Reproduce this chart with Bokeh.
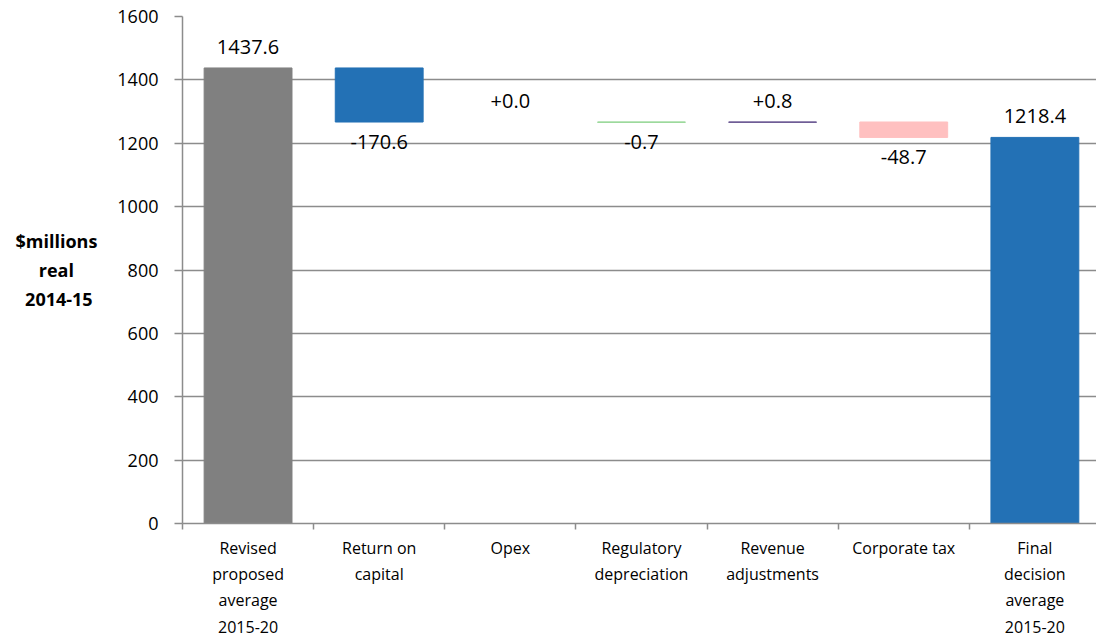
from bokeh.plotting import figure
from bokeh.models import FixedTicker, ColumnDataSource, Range1d
from bokeh.embed import file_html
from bokeh.resources import INLINE
from bokeh.core.properties import value

categories = ["Revised\nproposed\naverage\n2015-20", "Return on\ncapital", "Opex",
              "Regulatory\ndepreciation", "Revenue\nadjustments", "Corporate tax",
              "Final\ndecision\naverage\n2015-20"]
changes = [1437.6, -170.6, 0.0, -0.7, 0.8, -48.7, 1218.4]
value_labels = ["1437.6", "-170.6", "+0.0", "-0.7", "+0.8", "-48.7", "1218.4"]
is_total = [True, False, False, False, False, False, True]
colors = ["#808080", "#2371B5", "#2371B5", "#92D592", "#5F4B8B", "#FFC0C0", "#2371B5"]
y_ticks = [0, 200, 400, 600, 800, 1000, 1200, 1400, 1600]
y_title_lines = ["$millions", "real", "2014-15"]

FONT = "Open Sans"
NB = "\u00a0"
# right-aligned axis label: pad shorter lines with no-break spaces so they look centred
y_title = "\n".join([y_title_lines[0], y_title_lines[1] + NB * 5, y_title_lines[2] + NB * 1])

xs = list(range(len(categories)))
bottoms, tops, alphas = [], [], []
running = 0.0
for c, t in zip(changes, is_total):
    if t:
        bottoms.append(0.0)
        tops.append(c)
        running = c
    else:
        bottoms.append(running)
        running = running + c
        tops.append(running)
    alphas.append(0.0 if (c == 0 and not t) else 1.0)

bar_src = ColumnDataSource(dict(x=xs, bottom=bottoms, top=tops, color=colors, alpha=alphas))

up_x, up_y, up_t, dn_x, dn_y, dn_t = [], [], [], [], [], []
for x, c, t, b, tp, lab in zip(xs, changes, is_total, bottoms, tops, value_labels):
    if t or c >= 0:
        up_x.append(x); up_y.append(max(b, tp)); up_t.append(lab)
    else:
        dn_x.append(x); dn_y.append(min(b, tp)); dn_t.append(lab)

p = figure(width=1096, height=641, output_backend="svg", toolbar_location=None,
           x_range=Range1d(-0.5, 6.47), y_range=Range1d(0, 1600),
           min_border_left=182, min_border_right=0, min_border_top=16, min_border_bottom=118)
p.outline_line_color = None
p.background_fill_color = "white"

p.vbar(x="x", bottom="bottom", top="top", width=0.67, fill_color="color",
       line_color="color", fill_alpha="alpha", line_alpha="alpha", line_width=1,
       source=bar_src)

p.text(x=up_x, y=up_y, text=up_t, text_align="center", text_baseline="bottom",
       y_offset=-14, text_font=value(FONT), text_font_size="20px", text_color="black")
p.text(x=dn_x, y=dn_y, text=dn_t, text_align="center", text_baseline="top",
       y_offset=13, text_font=value(FONT), text_font_size="20px", text_color="black")

# axes
p.xaxis.ticker = FixedTicker(ticks=xs, minor_ticks=[i - 0.5 for i in range(len(categories) + 1)])
p.xaxis.major_label_overrides = {i: c for i, c in enumerate(categories)}
p.xaxis.major_tick_line_color = None
p.xaxis.major_tick_out = 0
p.xaxis.major_tick_in = 0
p.xaxis.minor_tick_line_color = "#8c8c8c"
p.xaxis.minor_tick_line_width = 1.5
p.xaxis.minor_tick_out = 6
p.xaxis.minor_tick_in = 0
p.xaxis.axis_line_color = "#8c8c8c"
p.xaxis.axis_line_width = 1.5
p.xaxis.major_label_text_font = FONT
p.xaxis.major_label_text_font_size = "16px"
p.xaxis.major_label_text_color = "black"
p.xaxis.major_label_standoff = 7

p.yaxis.ticker = FixedTicker(ticks=y_ticks, minor_ticks=[])
p.yaxis.major_tick_out = 8
p.yaxis.major_tick_in = 0
p.yaxis.major_tick_line_color = "#8c8c8c"
p.yaxis.major_tick_line_width = 1.5
p.yaxis.axis_line_color = "#8c8c8c"
p.yaxis.axis_line_width = 1.5
p.yaxis.major_label_text_font = FONT
p.yaxis.major_label_text_font_size = "18px"
p.yaxis.major_label_text_color = "black"
p.yaxis.major_label_standoff = 16
p.yaxis.axis_label = y_title
p.yaxis.axis_label_orientation = "horizontal"
p.yaxis.axis_label_text_font = FONT
p.yaxis.axis_label_text_font_size = "18px"
p.yaxis.axis_label_text_font_style = "bold"
p.yaxis.axis_label_text_color = "black"
p.yaxis.axis_label_standoff = 17

p.xgrid.grid_line_color = None
p.ygrid.grid_line_color = "#8c8c8c"
p.ygrid.grid_line_width = 1.5

open("out.html", "w").write(file_html(p, INLINE))
